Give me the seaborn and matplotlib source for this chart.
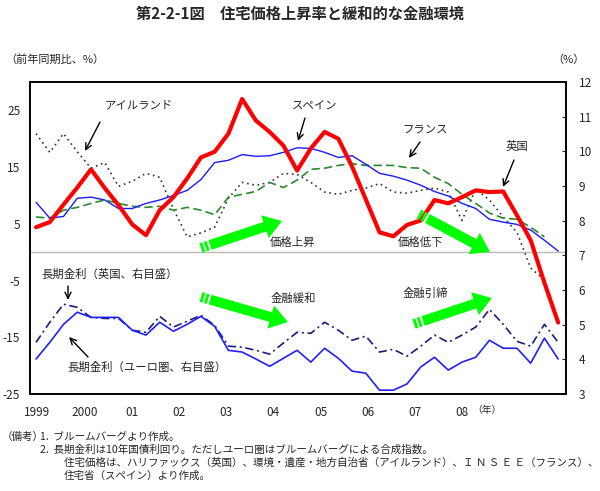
import numpy as np
import pandas as pd
import matplotlib
matplotlib.use("Agg")
import matplotlib.pyplot as plt
import seaborn as sns
from matplotlib.patches import FancyArrow, Polygon

# ---------------- data (1999Q1 - 2008Q3, quarterly) ----------------
quarters = [f"{y}Q{q}" for y in range(1999, 2009) for q in range(1, 5)][:39]
year_labels = ["1999", "2000", "01", "02", "03", "04", "05", "06", "07", "08"]

# house price, y/y % (left axis)
uk_price = [4.4, 5.3, 8.4, 11.4, 14.6, 11.3, 8.3, 4.9, 3.0, 7.4,
            9.7, 13.0, 16.7, 17.7, 20.9, 27.0, 23.2, 21.2, 18.8, 14.4,
            18.3, 21.2, 20.0, 15.1, 9.3, 3.5, 2.8, 4.8, 5.6, 9.2,
            8.6, 9.7, 10.9, 10.6, 10.7, 6.5, 2.1, -5.4, -12.4]
spain_price = [8.8, 6.0, 6.3, 9.5, 9.7, 9.2, 7.7, 7.7, 8.6, 9.2,
               10.0, 10.9, 12.8, 15.8, 16.2, 17.2, 16.9, 17.0, 17.6, 18.4,
               18.3, 17.6, 16.7, 17.0, 15.5, 13.9, 13.4, 12.7, 11.8, 10.7,
               9.9, 8.6, 7.7, 5.8, 5.3, 4.9, 3.9, 2.1, 0.2]
france_price = [6.2, 6.0, 7.4, 7.9, 8.6, 9.2, 8.6, 8.1, 7.9, 8.1,
                7.4, 7.9, 7.4, 6.6, 9.7, 10.2, 10.7, 12.3, 11.4, 12.7,
                14.6, 14.8, 15.3, 15.6, 15.3, 15.3, 15.3, 14.9, 14.8, 13.2,
                12.1, 10.2, 8.6, 6.9, 6.0, 5.8, 4.4, 2.7, np.nan]
ireland_price = [20.9, 17.6, 20.9, 17.7, 14.8, 15.8, 11.6, 12.5, 13.9, 13.2,
                 7.6, 2.7, 3.4, 4.4, 9.5, 12.3, 11.8, 12.3, 13.9, 13.7,
                 12.3, 10.6, 10.2, 10.9, 11.3, 12.1, 10.6, 10.4, 10.9, 11.3,
                 10.6, 5.6, 11.1, 9.2, 6.2, 3.5, -2.8, -4.9, np.nan]

# 10y government bond yield, % (right axis)
euro_rate = [4.01, 4.49, 5.01, 5.36, 5.21, 5.21, 5.21, 4.84, 4.70, 5.07,
             4.81, 5.01, 5.24, 4.95, 4.26, 4.21, 4.01, 3.80, 4.03, 4.26,
             3.92, 4.32, 4.03, 3.66, 3.60, 3.11, 3.11, 3.29, 3.78, 4.06,
             3.69, 3.92, 4.06, 4.55, 4.32, 4.32, 3.89, 4.61, 4.01]
uk_rate = [4.49, 5.07, 5.59, 5.50, 5.21, 5.18, 5.18, 4.84, 4.78, 5.24,
           4.93, 5.10, 5.27, 4.98, 4.38, 4.35, 4.26, 4.15, 4.47, 4.78,
           4.75, 5.07, 4.84, 4.55, 4.67, 4.21, 4.29, 4.09, 4.38, 4.70,
           4.49, 4.70, 4.93, 5.44, 5.01, 4.52, 4.38, 5.01, 4.49]

df = pd.DataFrame({
    "t": np.arange(len(quarters)),
    "quarter": quarters,
    "uk": uk_price, "spain": spain_price, "france": france_price,
    "ireland": ireland_price, "euro_rate": euro_rate, "uk_rate": uk_rate,
})

# ---------------- style ----------------
sns.set_style("white")
plt.rcParams["font.family"] = ["Noto Sans CJK JP", "DejaVu Sans"]
plt.rcParams["axes.unicode_minus"] = False

W, H = 600, 491
fig = plt.figure(figsize=(W / 100, H / 100), dpi=100)
ax = fig.add_axes([30 / W, 1 - 394 / H, 536 / W, 312 / H])
ax2 = ax.twinx()

# zero line
ax.axhline(0, color="#b8b8b8", lw=1.0, zorder=1)

sns.lineplot(data=df, x="t", y="ireland", ax=ax, color="#333333", lw=1.2,
             linestyle=(0, (1, 2.2)), zorder=3)
sns.lineplot(data=df, x="t", y="france", ax=ax, color="#2a8a2a", lw=1.2,
             linestyle=(0, (5, 2.5)), zorder=3)
sns.lineplot(data=df, x="t", y="spain", ax=ax, color="#1a1aff", lw=1.0, zorder=4)
sns.lineplot(data=df, x="t", y="uk", ax=ax, color="#ff0000", lw=3.0, zorder=5)

sns.lineplot(data=df, x="t", y="uk_rate", ax=ax2, color="#1c1c80", lw=1.2,
             linestyle=(0, (5, 2.2, 1.2, 2.2)))
sns.lineplot(data=df, x="t", y="euro_rate", ax=ax2, color="#2020ff", lw=1.2)

ax.set_xlim(-0.44, 38.57)
ax.set_ylim(-25, 30)
ax2.set_ylim(3, 12)

ax.set_yticks([-25, -15, -5, 5, 15, 25])
ax.set_yticklabels(["-25", "-15", "-5", "5", "15", "25"])
ax2.set_yticks(range(3, 13))
year_pos = [k * 3.44 + 0.07 for k in range(len(year_labels))]
ax.set_xticks(year_pos)
ax.set_xticklabels(year_labels)

ax.tick_params(axis="x", length=0, pad=9, labelsize=8.5)
ax.tick_params(axis="y", length=0, pad=7, labelsize=8.5)
ax2.tick_params(axis="y", direction="in", length=3, pad=9, labelsize=8.5)
for a in (ax, ax2):
    a.set_xlabel("")
    a.set_ylabel("")
    for s in a.spines.values():
        s.set_color("black")
        s.set_linewidth(1.2)

# ---------------- overlay for annotations ----------------
ov = fig.add_axes([0, 0, 1, 1])
ov.set_xlim(0, W)
ov.set_ylim(H, 0)
ov.axis("off")
ov.patch.set_alpha(0)

FS = 8.2
def txt(x, y, s, ha="center", fs=FS, **kw):
    ov.text(x, y, s, ha=ha, va="center", fontsize=fs, **kw)

def arrow(tail, head):
    ov.annotate("", xy=head, xytext=tail,
                arrowprops=dict(arrowstyle="->,head_length=0.45,head_width=0.22",
                                lw=1.0, color="black", shrinkA=0, shrinkB=0))

GREEN = "#00ff00"
def green_arrow(p0, p1, width=10, head_w=24, head_l=18):
    p0 = np.array(p0, float); p1 = np.array(p1, float)
    d = p1 - p0
    u = d / np.hypot(*d)
    n = np.array([-u[1], u[0]])
    for a, b in [(0, 3), (4.5, 7.5)]:
        pts = [p0 + u * a + n * width / 2, p0 + u * b + n * width / 2,
               p0 + u * b - n * width / 2, p0 + u * a - n * width / 2]
        ov.add_patch(Polygon(pts, closed=True, color=GREEN, lw=0, zorder=6))
    s = p0 + u * 9.5
    dd = p1 - s
    ov.add_patch(FancyArrow(s[0], s[1], dd[0], dd[1], width=width,
                            head_width=head_w, head_length=head_l,
                            length_includes_head=True, color=GREEN, lw=0, zorder=6))

# title
txt(300, 14, "第2-2-1図　住宅価格上昇率と緩和的な金融環境", fs=11, fontweight="bold")
txt(5, 60, "（前年同期比、%）", ha="left", fs=8)
txt(568, 60, "（%）", fs=8)

# series labels
txt(139, 105, "アイルランド"); arrow((100, 122), (85, 151))
txt(315, 107, "スペイン"); arrow((305, 118), (298, 141))
txt(425, 130, "フランス"); arrow((420, 142), (409, 158))
txt(517, 146, "英国"); arrow((514, 160), (503, 187))
txt(110, 274, "長期金利（英国、右目盛）"); arrow((68, 286), (68, 300))
txt(147, 367, "長期金利（ユーロ圏、右目盛）"); arrow((88, 357), (69, 337))

# phase labels and green arrows
txt(293, 242, "価格上昇"); green_arrow((201, 248), (282, 221))
txt(421, 242, "価格低下"); green_arrow((419, 214), (490, 252))
txt(293, 298, "金融緩和"); green_arrow((201, 297), (288, 322))
txt(425, 293, "金融引締"); green_arrow((414, 324), (492, 298))

txt(487, 410, "（年）", fs=7)

# notes
NF = 7.6
txt(2, 437, "（備考）", ha="left", fs=NF)
txt(40, 437, "1.  ブルームバーグより作成。", ha="left", fs=NF)
txt(40, 450, "2.  長期金利は10年国債利回り。ただしユーロ圏はブルームバーグによる合成指数。", ha="left", fs=NF)
txt(64, 463, "住宅価格は、ハリファックス（英国）、環境・遺産・地方自治省（アイルランド）、Ｉ Ｎ Ｓ Ｅ Ｅ（フランス）、", ha="left", fs=NF)
txt(64, 476, "住宅省（スペイン）より作成。", ha="left", fs=NF)

fig.savefig("out.png", dpi=100)
